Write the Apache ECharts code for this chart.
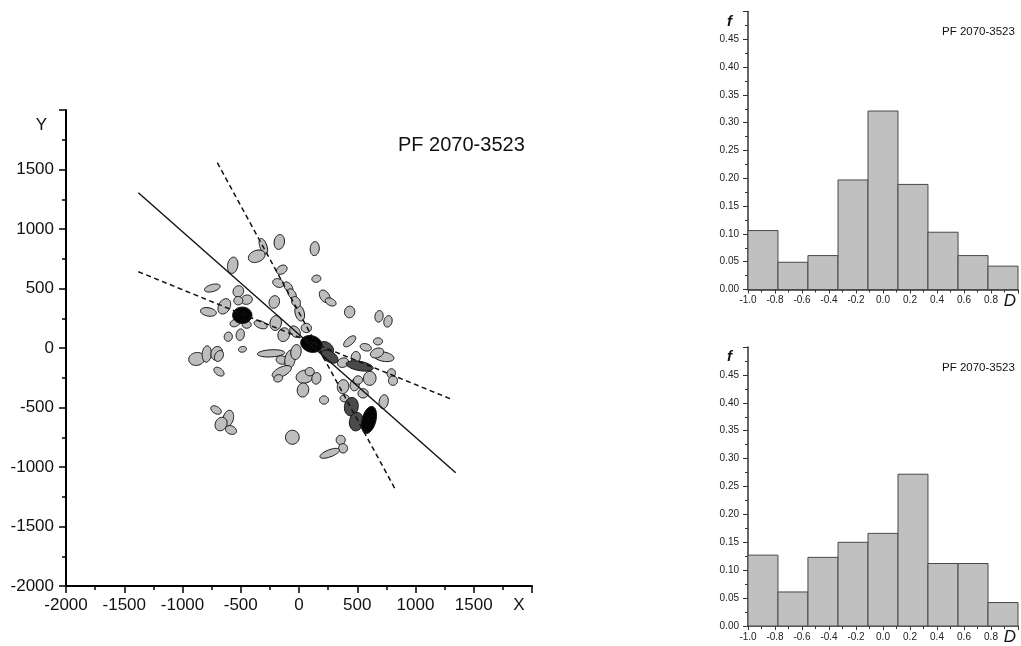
<!DOCTYPE html>
<html>
<head>
<meta charset="utf-8">
<title>PF 2070-3523</title>
<script src="https://cdn.jsdelivr.net/npm/echarts@6/dist/echarts.min.js"></script>
<style>
  html, body { margin: 0; padding: 0; background: #fff; }
  #chart { width: 1021px; height: 646px; }
</style>
</head>
<body>
<div id="chart"></div>
<script>
// ---- Galaxy ellipses in the X/Y plane (centre, semi-axes, position angle, shade) ----
const ellipseX = [135, -169, -306, -363, -569, -148, -744, -521, -449, -521, -641, -778, -487, -549, -449, -329, -212, -200, -131, -607, -504, -485, -178, -92, -60, 149, 221, 272, 435, 687, 764, 6, -26, 63, 435, 678, 573, 727, 670, 106, 234, 264, 521, 378, 487, 607, 792, 807, 49, 149, 92, 34, 215, 378, 392, 478, 507, 550, 449, 492, 601, 727, 358, 378, 264, -57, -878, -792, -706, -687, -687, -240, -148, -77, -148, -178, -712, -607, -669, -584, -34, -26];
const ellipseY = [835, 891, 855, 771, 695, 658, 504, 476, 406, 398, 350, 303, 275, 210, 196, 196, 387, 210, 112, 95, 112, -11, 546, 513, 454, 582, 434, 387, 303, 266, 224, 294, 387, 168, 56, 56, 6, -73, -42, 34, -2, -73, -151, -123, -78, -255, -213, -275, -241, -255, -199, -353, -437, -325, -423, -311, -269, -381, -493, -619, -605, -451, -773, -843, -885, -750, -92, -50, -45, -67, -199, -45, -101, -95, -199, -255, -521, -591, -639, -689, 137, -34];
const ellipseA = [59, 63, 69, 74, 69, 49, 69, 49, 49, 39, 69, 69, 83, 44, 39, 59, 54, 63, 59, 39, 49, 35, 49, 49, 49, 39, 59, 49, 49, 49, 49, 69, 49, 44, 63, 39, 49, 89, 59, 93, 69, 78, 117, 49, 49, 59, 39, 39, 74, 49, 39, 59, 39, 59, 39, 49, 39, 44, 78, 78, 117, 59, 39, 39, 89, 59, 69, 69, 59, 49, 49, 117, 49, 78, 89, 39, 49, 69, 59, 49, 54, 63];
const ellipseB = [39, 44, 30, 49, 44, 35, 30, 44, 39, 35, 49, 35, 69, 30, 30, 30, 44, 49, 49, 35, 35, 24, 35, 30, 30, 30, 39, 30, 44, 35, 35, 39, 35, 39, 30, 30, 30, 39, 39, 69, 49, 44, 39, 39, 39, 54, 35, 39, 54, 39, 35, 49, 35, 49, 30, 39, 35, 39, 59, 59, 59, 39, 39, 39, 30, 59, 54, 39, 49, 35, 30, 30, 35, 44, 39, 30, 30, 44, 49, 35, 39, 44];
const ellipseAngle = [85, 80, -70, 20, 80, 30, 15, 60, 10, 0, 60, -10, 0, 20, 0, -20, 70, 80, 70, 80, 80, 10, -20, -50, -55, 10, -55, -25, 80, 80, 75, -75, -60, 0, 40, 0, -15, -10, 20, -15, -35, -30, -10, 20, 80, 80, 70, 0, 10, 80, 0, 80, 0, 80, 0, 80, 0, 0, 80, 80, 75, 80, 0, 0, 20, 0, 10, 85, 70, 60, -35, 3, -10, 80, 25, 20, -30, 75, 60, -20, -50, 80];
// 0 = light grey, 1 = dark grey, 2 = black
const ellipseShade = [0, 0, 0, 0, 0, 0, 0, 0, 0, 0, 0, 0, 2, 0, 0, 0, 0, 0, 0, 0, 0, 0, 0, 0, 0, 0, 0, 0, 0, 0, 0, 0, 0, 0, 0, 0, 0, 0, 0, 2, 1, 1, 1, 0, 0, 0, 0, 0, 0, 0, 0, 0, 0, 0, 0, 0, 0, 0, 1, 1, 2, 0, 0, 0, 0, 0, 0, 0, 0, 0, 0, 0, 0, 0, 0, 0, 0, 0, 0, 0, 0, 0];

// ---- Fitted axis (solid) and its bounds (dashed) ----
const fitLine = [[-1379, 1305], [1345, -1048]];
const boundSteep = [[-701, 1557], [833, -1199]];
const boundShallow = [[-1379, 641], [1325, -437]];

// ---- Tick values for the X/Y panel ----
const xyTicks = [-2000, -1500, -1000, -500, 0, 500, 1000, 1500, 2000];

// ---- Histograms of D ----
const binEdges = [-1.0, -0.778, -0.556, -0.333, -0.111, 0.111, 0.333, 0.556, 0.778, 1.0];
const freqTop = [0.106, 0.049, 0.061, 0.197, 0.321, 0.189, 0.103, 0.061, 0.042];
const freqBottom = [0.127, 0.061, 0.123, 0.150, 0.166, 0.272, 0.112, 0.112, 0.042];

const FONT = '"Liberation Sans", Arial, Helvetica, sans-serif';
const shadeFill = ['#bdbdbd', '#4a4a4a', '#050505'];

const ellipseData = ellipseX.map((x, i) => [x, ellipseY[i], ellipseA[i], ellipseB[i], ellipseAngle[i], ellipseShade[i]])
  .sort((p, q) => p[5] - q[5]);

function renderEllipse(params, api) {
  const cx = api.value(0), cy = api.value(1);
  const a = api.value(2), b = api.value(3);
  const ang = api.value(4) * Math.PI / 180;
  const shade = api.value(5);
  const ca = Math.cos(ang), sa = Math.sin(ang);
  const pts = [];
  for (let k = 0; k < 48; k++) {
    const t = k / 48 * Math.PI * 2;
    const dx = a * Math.cos(t), dy = b * Math.sin(t);
    pts.push(api.coord([cx + dx * ca - dy * sa, cy + dx * sa + dy * ca]));
  }
  return {
    type: 'polygon',
    shape: { points: pts },
    style: { fill: shadeFill[shade], stroke: '#111', lineWidth: 1 }
  };
}

function histRender(freqs) {
  return function (params, api) {
    const i = params.dataIndex;
    const p0 = api.coord([binEdges[i], freqs[i]]);
    const p1 = api.coord([binEdges[i + 1], 0]);
    return {
      type: 'rect',
      shape: { x: p0[0], y: p0[1], width: p1[0] - p0[0], height: p1[1] - p0[1] },
      style: { fill: '#c0c0c0', stroke: '#484848', lineWidth: 1 }
    };
  };
}

const mainAxisCommon = {
  type: 'value',
  min: xyTicks[0],
  max: xyTicks[xyTicks.length - 1],
  interval: 500,
  splitLine: { show: false },
  axisLine: { show: true, onZero: false, lineStyle: { color: '#000', width: 2 } },
  axisTick: { show: true, inside: false, length: 7, lineStyle: { color: '#000', width: 1.5 } },
  minorTick: { show: true, splitNumber: 2, length: 4, lineStyle: { color: '#000', width: 1.5 } },
  axisLabel: {
    fontFamily: FONT, fontSize: 17, color: '#111',
    formatter: v => (v === 2000 ? '' : String(v))
  }
};

function histXAxis(gridIndex) {
  return {
    type: 'value', gridIndex, min: -1, max: 1, interval: 0.2,
    name: 'D', nameLocation: 'end', nameGap: -8,
    nameTextStyle: { fontFamily: FONT, fontSize: 17, fontStyle: 'italic', color: '#111', align: 'center', verticalAlign: 'top', padding: [3, 0, 0, 0] },
    splitLine: { show: false },
    axisLine: { show: true, onZero: false, lineStyle: { color: '#333', width: 1.5 } },
    axisTick: { show: true, length: 4, lineStyle: { color: '#333' } },
    minorTick: { show: true, splitNumber: 2, length: 3, lineStyle: { color: '#333' } },
    axisLabel: {
      fontFamily: FONT, fontSize: 10, color: '#222', margin: 6,
      formatter: v => (Math.abs(v - 1) < 1e-9 ? '' : v.toFixed(1))
    }
  };
}

function histYAxis(gridIndex) {
  return {
    type: 'value', gridIndex, min: 0, max: 0.5, interval: 0.05,
    name: 'f', nameLocation: 'end', nameGap: -10,
    nameTextStyle: { fontFamily: FONT, fontSize: 15, fontStyle: 'italic', fontWeight: 'bold', color: '#111', align: 'right', verticalAlign: 'middle', padding: [0, 16, 0, 0] },
    splitLine: { show: false },
    axisLine: { show: true, onZero: false, lineStyle: { color: '#333', width: 1.5 } },
    axisTick: { show: true, length: 5, lineStyle: { color: '#333' } },
    minorTick: { show: true, splitNumber: 2, length: 3, lineStyle: { color: '#333' } },
    axisLabel: {
      fontFamily: FONT, fontSize: 10, color: '#222', margin: 9,
      formatter: v => (Math.abs(v - 0.5) < 1e-9 ? '' : v.toFixed(2))
    }
  };
}

const chart = echarts.init(document.getElementById('chart'), null, { renderer: 'canvas' });

chart.setOption({
  animation: false,
  backgroundColor: '#fff',
  title: [
    { text: 'PF 2070-3523', left: 398, top: 135, padding: 0,
      textStyle: { fontFamily: FONT, fontSize: 20, fontWeight: 'normal', color: '#111' } },
    { text: 'PF 2070-3523', left: 942, top: 26, padding: 0,
      textStyle: { fontFamily: FONT, fontSize: 11.5, fontWeight: 'normal', color: '#111' } },
    { text: 'PF 2070-3523', left: 942, top: 362, padding: 0,
      textStyle: { fontFamily: FONT, fontSize: 11.5, fontWeight: 'normal', color: '#111' } }
  ],
  grid: [
    { left: 66, top: 110, width: 466, height: 476 },
    { left: 748, top: 11.5, width: 272, height: 278 },
    { left: 748, top: 347, width: 272, height: 279 }
  ],
  xAxis: [
    Object.assign({}, mainAxisCommon, {
      gridIndex: 0,
      name: 'X', nameLocation: 'end', nameGap: -13,
      nameTextStyle: { fontFamily: FONT, fontSize: 17, color: '#111', align: 'center', verticalAlign: 'top', padding: [11, 0, 0, 0] },
      axisLabel: Object.assign({}, mainAxisCommon.axisLabel, { margin: 11 })
    }),
    histXAxis(1),
    histXAxis(2)
  ],
  yAxis: [
    Object.assign({}, mainAxisCommon, {
      gridIndex: 0,
      name: 'Y', nameLocation: 'end', nameGap: -15,
      nameTextStyle: { fontFamily: FONT, fontSize: 17, color: '#111', align: 'right', verticalAlign: 'middle', padding: [0, 19, 0, 0] },
      axisLabel: Object.assign({}, mainAxisCommon.axisLabel, { margin: 12 })
    }),
    histYAxis(1),
    histYAxis(2)
  ],
  series: [
    {
      type: 'custom', name: 'galaxies', xAxisIndex: 0, yAxisIndex: 0, z: 2,
      renderItem: renderEllipse, data: ellipseData, silent: true
    },
    {
      type: 'line', name: 'axis', xAxisIndex: 0, yAxisIndex: 0, z: 3,
      data: fitLine, symbol: 'none', silent: true,
      lineStyle: { color: '#111', width: 1.4, type: 'solid' }
    },
    {
      type: 'line', name: 'bound1', xAxisIndex: 0, yAxisIndex: 0, z: 3,
      data: boundSteep, symbol: 'none', silent: true,
      lineStyle: { color: '#111', width: 1.5, type: [5, 3.5] }
    },
    {
      type: 'line', name: 'bound2', xAxisIndex: 0, yAxisIndex: 0, z: 3,
      data: boundShallow, symbol: 'none', silent: true,
      lineStyle: { color: '#111', width: 1.5, type: [5, 3.5] }
    },
    {
      type: 'custom', name: 'hist1', xAxisIndex: 1, yAxisIndex: 1,
      renderItem: histRender(freqTop), data: freqTop.map((f, i) => [binEdges[i], f]), silent: true
    },
    {
      type: 'custom', name: 'hist2', xAxisIndex: 2, yAxisIndex: 2,
      renderItem: histRender(freqBottom), data: freqBottom.map((f, i) => [binEdges[i], f]), silent: true
    }
  ]
});
</script>
</body>
</html>
